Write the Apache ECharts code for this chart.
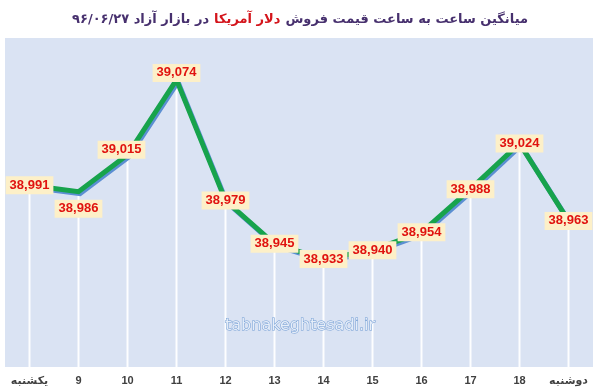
<!DOCTYPE html>
<html>
<head>
<meta charset="utf-8">
<script src="https://cdn.jsdelivr.net/npm/echarts@6/dist/echarts.min.js"></script>
<style>
html,body{margin:0;padding:0;background:#ffffff;}
#chart{width:600px;height:392px;}
</style>
</head>
<body>
<div id="chart"></div>
<script>
// ---- data ----
var categories = ['یکشنبه', '9', '10', '11', '12', '13', '14', '15', '16', '17', '18', 'دوشنبه'];
var prices = [38991, 38986, 39015, 39074, 38979, 38945, 38933, 38940, 38954, 38988, 39024, 38963];
var titlePart1 = 'در بازار آزاد ۹۶/۰۶/۲۷';
var titlePart2 = 'دلار آمریکا';
var titlePart3 = 'میانگین ساعت به ساعت قیمت فروش';
var watermark = 'tabnakeghtesadi.ir';

// ---- styling ----
var labelOffsets = {1: [0, 17], 2: [-6, -5], 3: [0, -7]};

var chart = echarts.init(document.getElementById('chart'), null, {renderer: 'canvas'});

var lineData = prices.map(function (v, i) {
  var d = {value: v};
  if (labelOffsets[i]) d.label = {offset: labelOffsets[i]};
  return d;
});

var option = {
  animation: false,
  backgroundColor: '#ffffff',
  title: {
    text: '{a|' + titlePart1 + '}{r|' + titlePart2 + '}{a|' + titlePart3 + '}',
    left: 'center',
    top: 8,
    textStyle: {
      rich: {
        a: {fontFamily: 'DejaVu Sans', fontWeight: 'bold', fontSize: 13, color: '#47306e'},
        r: {fontFamily: 'DejaVu Sans', fontWeight: 'bold', fontSize: 13, color: '#d4151c', padding: [0, 5]}
      }
    }
  },
  grid: {
    left: 5, right: 7, top: 38, bottom: 25,
    show: true, backgroundColor: '#dae3f3', borderWidth: 0
  },
  xAxis: {
    type: 'category',
    data: categories,
    boundaryGap: true,
    axisLine: {show: false},
    axisTick: {show: false},
    splitLine: {show: false},
    axisLabel: {
      interval: 0,
      margin: 8,
      color: '#404040',
      fontSize: 11,
      fontWeight: 'bold',
      fontFamily: "'Liberation Sans', 'DejaVu Sans'"
    }
  },
  yAxis: {
    type: 'value',
    min: 38848,
    max: 39107,
    show: false,
    splitLine: {show: false}
  },
  graphic: [
    {
      type: 'text',
      left: 'center',
      top: 317,
      z: 5,
      style: {
        text: watermark,
        fontFamily: 'DejaVu Sans',
        fontSize: 16,
        fill: '#e6eef9',
        stroke: '#6f9bd3',
        lineWidth: 1,
        shadowColor: '#ffffff',
        shadowBlur: 6
      }
    }
  ],
  series: [
    {
      type: 'bar',
      data: prices,
      barWidth: 2,
      clip: true,
      silent: true,
      z: 1,
      itemStyle: {color: 'rgba(255,255,255,0.95)'}
    },
    {
      type: 'line',
      data: lineData,
      z: 3,
      symbol: 'circle',
      symbolSize: 1,
      itemStyle: {color: 'rgba(0,0,0,0)'},
      lineStyle: {
        width: 5,
        color: '#17a34c',
        shadowColor: '#5b8fd2',
        shadowOffsetX: 1.5,
        shadowOffsetY: 2,
        shadowBlur: 0,
        join: 'miter'
      },
      label: {
        show: true,
        position: 'inside',
        formatter: function (p) { return Number(p.value).toLocaleString('en-US'); },
        color: '#e0120f',
        fontWeight: 'bold',
        fontSize: 13,
        fontFamily: "'Liberation Sans'",
        backgroundColor: '#fdf0c8',
        padding: [3, 4, 2, 4]
      }
    }
  ]
};
chart.setOption(option);
</script>
</body>
</html>
